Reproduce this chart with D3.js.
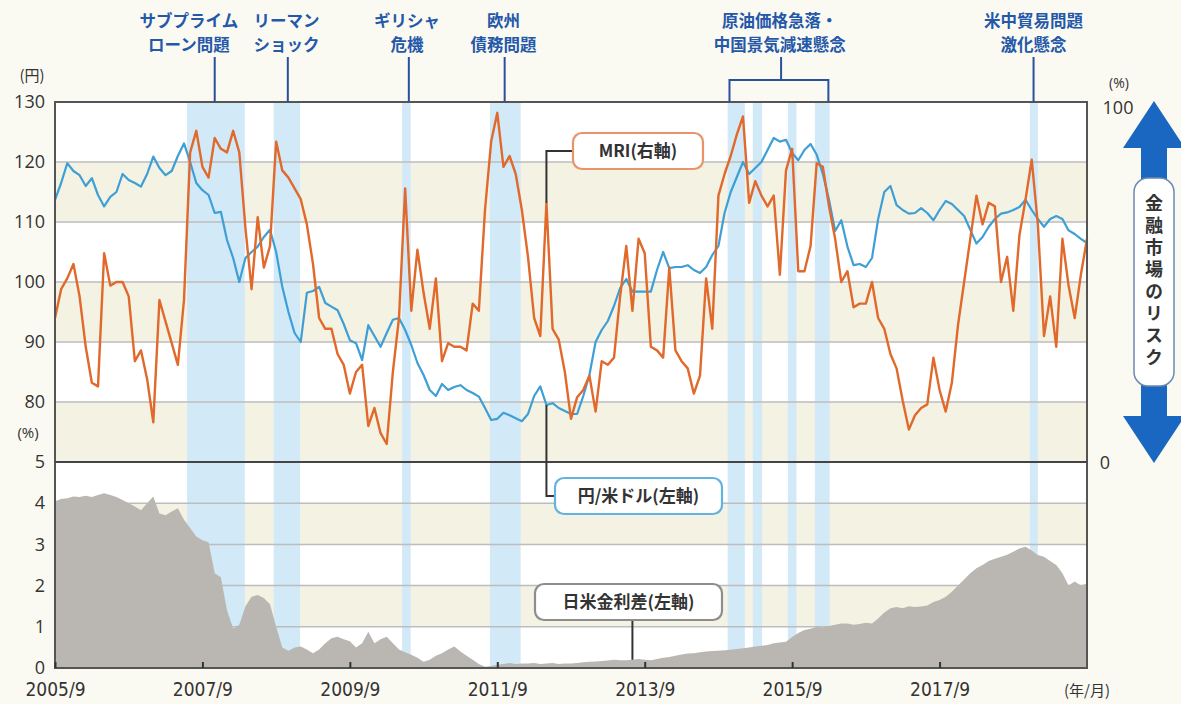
<!DOCTYPE html>
<html>
<head>
<meta charset="utf-8">
<script src="https://cdn.jsdelivr.net/npm/d3@7"></script>
<style>
  body { margin: 0; background: #fbfaf2; }
  svg { display: block; }
</style>
</head>
<body>
<div id="chart"></div>
<script>
// Monthly data, first month = 2005/9 (index 0), last = 2019/9 (index 168)
const usdJpy = [
  113.7, 116.5, 119.8, 118.5, 117.8, 116, 117.3, 114.5, 112.6, 114.2,
  115, 118, 117, 116.5, 115.9, 118, 120.9, 119, 117.8, 118.5,
  121, 123.1, 120, 116.5, 115.3, 114.5, 111.5, 111.7, 107, 104,
  100, 104, 105, 105.9, 107.5, 108.7, 105, 99.2, 95, 91.5,
  90, 98.2, 98.5, 99.2, 96.5, 95.9, 95.3, 93, 90.3, 89.8,
  87, 92.8, 91, 89.2, 91.5, 93.7, 94, 92, 89.5, 86.5,
  84.5, 82, 81, 83, 82, 82.5, 82.8, 82, 81.5, 80.9,
  79, 77, 77.2, 78.2, 77.8, 77.3, 76.8, 78, 81, 82.6,
  79.5, 79.8, 79, 78.5, 78, 78, 81, 84.5, 90, 92,
  93.5, 96, 99, 100.5, 98.4, 98.4, 98.4, 98.4, 102, 105,
  102.3, 102.5, 102.5, 102.8, 102, 101.5, 102.5, 104.5, 106, 111.5,
  115, 117.5, 120, 118, 119, 120, 122, 124, 123.4, 123.7,
  121.5, 120.3, 122, 123, 121.2, 118, 113.7, 108.5, 110.3, 105.9,
  102.8, 103, 102.5, 104, 110.5, 115, 116, 112.8, 112, 111.4,
  111.5, 112.3, 111.5, 110.3, 112, 113.5, 113, 112, 111, 108.7,
  106.4, 107.5, 109.2, 110.5, 111.4, 111.6, 112, 112.5, 113.7, 112,
  110.5, 109.2, 110.5, 111, 110.5, 108.6, 108, 107.2, 106.5
];

const mri = [
  40, 48, 51, 55, 46, 32, 22, 21, 58, 49,
  50, 50, 46, 28, 31, 23, 11, 45, 39, 33,
  27, 45, 86, 92, 82, 79, 90, 87, 86, 92,
  86, 65, 48, 68, 54, 60, 89, 81, 79, 76,
  73, 66, 55, 40, 37, 37, 30, 27, 19, 25,
  27, 10, 15, 8, 5, 25, 40, 76, 42, 59,
  47, 37, 51, 28, 33, 32, 32, 31, 44, 42,
  70, 89, 97, 82, 85, 80, 70, 57, 40, 35,
  72, 37, 34, 25, 12, 18, 20, 24, 14, 28,
  27, 29, 46, 60, 42, 62, 58, 32, 31, 29,
  54, 31, 28, 26, 19, 24, 51, 37, 74, 80,
  85, 91, 96, 72, 78, 74, 71, 74, 52, 81,
  87, 53, 53, 60, 83, 82, 71, 62, 50, 53,
  43, 44, 44, 50, 40, 37, 30, 26, 17, 9,
  13, 15, 16, 29, 20, 14, 22, 38, 50, 62,
  74, 66, 72, 71, 50, 57, 42, 63, 73, 84,
  66, 35, 46, 32, 62, 49, 40, 52, 62
];

const rateDiff = [
  4.05, 4.1, 4.12, 4.16, 4.15, 4.18, 4.15, 4.2, 4.24, 4.2,
  4.15, 4.08, 4.0, 3.92, 3.83, 4.0, 4.16, 3.75, 3.71, 3.8,
  3.88, 3.6, 3.4, 3.19, 3.1, 3.05, 2.3, 2.2, 1.4, 0.96,
  1.05, 1.5, 1.73, 1.77, 1.7, 1.55, 1.0, 0.5, 0.42, 0.5,
  0.52, 0.45, 0.36, 0.45, 0.6, 0.72, 0.76, 0.7, 0.65, 0.5,
  0.6, 0.88, 0.6, 0.7, 0.76, 0.6, 0.45, 0.38, 0.32, 0.25,
  0.15, 0.2, 0.3, 0.36, 0.45, 0.52, 0.4, 0.3, 0.2, 0.1,
  0.03, 0.05, 0.08, 0.1, 0.12, 0.1, 0.11, 0.11, 0.12, 0.1,
  0.11, 0.12, 0.1, 0.11, 0.11, 0.12, 0.14, 0.15, 0.16, 0.17,
  0.18, 0.2, 0.19, 0.19, 0.2, 0.22, 0.2, 0.19, 0.22, 0.25,
  0.27, 0.3, 0.33, 0.35, 0.36, 0.38, 0.4, 0.41, 0.42, 0.43,
  0.44, 0.46, 0.48, 0.5, 0.52, 0.54, 0.56, 0.6, 0.62, 0.64,
  0.75, 0.85, 0.92, 0.95, 1.0, 0.98, 1.02, 1.05, 1.08, 1.08,
  1.05, 1.07, 1.1, 1.08, 1.2, 1.35, 1.45, 1.48, 1.45, 1.5,
  1.48, 1.49, 1.52, 1.6, 1.65, 1.73, 1.85, 2.0, 2.15, 2.3,
  2.42, 2.5, 2.6, 2.65, 2.7, 2.75, 2.82, 2.9, 2.94, 2.85,
  2.74, 2.7, 2.6, 2.5, 2.3, 2.0, 2.1, 2.0, 2.05
];

// x axis ticks (month index) and their labels
const xTickMonths = [0, 24, 48, 72, 96, 120, 144];
const xTickLabels = ["2005/9", "2007/9", "2009/9", "2011/9", "2013/9", "2015/9", "2017/9"];

// left / lower ticks
const yenTicks = [80, 90, 100, 110, 120, 130];
const rateTicks = [0, 1, 2, 3, 4, 5];

// shaded event periods (month index, start / end)
const eventBands = [
  [21.5, 30.9], [35.6, 39.9], [56.5, 57.9], [70.8, 75.8],
  [109.5, 112.3], [113.6, 115.1], [119.3, 120.7], [123.7, 126.1],
  [158.7, 160.0]
];

// event labels at the top: pointer month, label centre month
const eventLabels = [
  { lines: ["サブプライム", "ローン問題"], at: 26, textAt: 21.8 },
  { lines: ["リーマン", "ショック"], at: 37.9, textAt: 37.7 },
  { lines: ["ギリシャ", "危機"], at: 57.6, textAt: 57.3 },
  { lines: ["欧州", "債務問題"], at: 73.2, textAt: 73.0 },
  { lines: ["原油価格急落・", "中国景気減速懸念"], at: 118.2, textAt: 118.0, span: [109.8, 125.9] },
  { lines: ["米中貿易問題", "激化懸念"], at: 159.3, textAt: 159.3 }
];

let width = 1181, height = 704;
let plot = { left: 55, right: 1087, top: 102, mid: 462, bottom: 668 };

let svg = d3.select('#chart')
            .append('svg')
            .attr('width', width)
            .attr('height', height)
            .style('background', '#fbfaf2');

const x = d3.scaleLinear()
            .domain([0, 168])
            .range([plot.left, plot.right]);

// yen on the left of the upper panel, MRI on the right
const yYen = d3.scaleLinear().domain([70, 130]).range([plot.mid, plot.top]);
const yMri = d3.scaleLinear().domain([0, 100]).range([plot.mid, plot.top]);
// rate spread in the lower panel
const yRate = d3.scaleLinear().domain([0, 5]).range([plot.bottom, plot.mid]);

const plotW = plot.right - plot.left;

// white + beige bands
svg.append('rect')
   .attr('x', plot.left).attr('y', plot.top)
   .attr('width', plotW).attr('height', plot.bottom - plot.top)
   .attr('fill', '#ffffff');

[[120, 110], [100, 90], [80, 70]].forEach(b => {
  svg.append('rect')
     .attr('x', plot.left).attr('y', yYen(b[0]))
     .attr('width', plotW).attr('height', yYen(b[1]) - yYen(b[0]))
     .attr('fill', '#f4f2e3');
});
[[4, 3], [2, 1]].forEach(b => {
  svg.append('rect')
     .attr('x', plot.left).attr('y', yRate(b[0]))
     .attr('width', plotW).attr('height', yRate(b[1]) - yRate(b[0]))
     .attr('fill', '#f4f2e3');
});

// event shading
svg.selectAll('rect.event')
   .data(eventBands)
   .enter()
   .append('rect')
   .attr('class', 'event')
   .attr('x', d => x(d[0]))
   .attr('y', plot.top)
   .attr('width', d => x(d[1]) - x(d[0]))
   .attr('height', plot.bottom - plot.top)
   .attr('fill', '#d2e9f8');

// gridlines
svg.append('g')
   .selectAll('line')
   .data([80, 90, 100, 110, 120])
   .enter()
   .append('line')
   .attr('x1', plot.left).attr('x2', plot.right)
   .attr('y1', d => yYen(d)).attr('y2', d => yYen(d))
   .attr('stroke', '#bdbdbd').attr('stroke-width', 1.5);

svg.append('g')
   .selectAll('line')
   .data([1, 2, 3, 4])
   .enter()
   .append('line')
   .attr('x1', plot.left).attr('x2', plot.right)
   .attr('y1', d => yRate(d)).attr('y2', d => yRate(d))
   .attr('stroke', '#bdbdbd').attr('stroke-width', 1.5);

// rate spread area
const area = d3.area()
               .x((d, i) => x(i))
               .y0(yRate(0))
               .y1(d => yRate(d));

svg.append('path')
   .datum(rateDiff)
   .attr('d', area)
   .attr('fill', '#bab7b2');

// yen line
const yenLine = d3.line()
                  .x((d, i) => x(i))
                  .y(d => yYen(d));

svg.append('path')
   .datum(usdJpy)
   .attr('d', yenLine)
   .attr('fill', 'none')
   .attr('stroke', '#3d9fd6')
   .attr('stroke-width', 2.2)
   .attr('stroke-linejoin', 'round');

// MRI line
const mriLine = d3.line()
                  .x((d, i) => x(i))
                  .y(d => yMri(d));

svg.append('path')
   .datum(mri)
   .attr('d', mriLine)
   .attr('fill', 'none')
   .attr('stroke', '#e0692b')
   .attr('stroke-width', 2.4)
   .attr('stroke-linejoin', 'round');

// frame and panel divider
svg.append('rect')
   .attr('x', plot.left).attr('y', plot.top)
   .attr('width', plotW).attr('height', plot.bottom - plot.top)
   .attr('fill', 'none')
   .attr('stroke', '#555')
   .attr('stroke-width', 2);

svg.append('line')
   .attr('x1', plot.left).attr('x2', plot.right)
   .attr('y1', plot.mid).attr('y2', plot.mid)
   .attr('stroke', '#444').attr('stroke-width', 2);

// axes
const numFont = "'Open Sans', 'Noto Sans', sans-serif";

let yenAxis = svg.append('g')
                 .attr('transform', `translate(${plot.left},0)`)
                 .call(d3.axisLeft(yYen).tickValues(yenTicks).tickSize(0).tickPadding(10));

let rateAxis = svg.append('g')
                  .attr('transform', `translate(${plot.left},0)`)
                  .call(d3.axisLeft(yRate).tickValues(rateTicks).tickFormat(d => d).tickSize(0).tickPadding(10));

let xAxis = svg.append('g')
               .attr('transform', `translate(0,${plot.bottom})`)
               .call(d3.axisBottom(x)
                       .tickValues(xTickMonths)
                       .tickFormat((d, i) => xTickLabels[i])
                       .tickSizeInner(-6)
                       .tickSizeOuter(0)
                       .tickPadding(15));

[yenAxis, rateAxis, xAxis].forEach(a => {
  a.select('.domain').remove();
  a.selectAll('text')
   .attr('fill', '#333')
   .style('font-family', numFont)
   .style('font-size', '18px');
});
xAxis.selectAll('line').attr('stroke', '#333').attr('stroke-width', 2);
xAxis.selectAll('text')
     .style('font-family', "'Liberation Sans Narrow', 'DejaVu Sans Condensed', sans-serif")
     .style('font-size', '19px');

// unit labels
const jpFont = "'Noto Sans CJK JP', sans-serif";

svg.append('text').attr('x', 32).attr('y', 81)
   .attr('text-anchor', 'middle').attr('fill', '#333')
   .style('font-family', jpFont).style('font-size', '15px')
   .text('(円)');
svg.append('text').attr('x', 28).attr('y', 438)
   .attr('text-anchor', 'middle').attr('fill', '#333')
   .style('font-family', numFont).style('font-size', '15px')
   .text('(%)');
svg.append('text').attr('x', 1119).attr('y', 88)
   .attr('text-anchor', 'middle').attr('fill', '#333')
   .style('font-family', numFont).style('font-size', '14px')
   .text('(%)');
svg.append('text').attr('x', 1118).attr('y', 114)
   .attr('text-anchor', 'middle').attr('fill', '#333')
   .style('font-family', numFont).style('font-size', '18px')
   .text(100);
svg.append('text').attr('x', 1105).attr('y', 469)
   .attr('text-anchor', 'middle').attr('fill', '#333')
   .style('font-family', numFont).style('font-size', '18px')
   .text(0);
svg.append('text').attr('x', 1087).attr('y', 696)
   .attr('text-anchor', 'middle').attr('fill', '#333')
   .style('font-family', jpFont).style('font-size', '15px')
   .text('(年/月)');

// event labels and pointer lines
const evColor = '#2a4f9c';
eventLabels.forEach(ev => {
  ev.lines.forEach((ln, j) => {
    svg.append('text')
       .attr('x', x(ev.textAt))
       .attr('y', 27 + j * 24)
       .attr('text-anchor', 'middle')
       .attr('fill', '#2458a8')
       .style('font-family', jpFont)
       .style('font-weight', 'bold')
       .style('font-size', '16.5px')
       .text(ln);
  });
  if (ev.span) {
    svg.append('line')
       .attr('x1', x(ev.at)).attr('x2', x(ev.at))
       .attr('y1', 57).attr('y2', 80)
       .attr('stroke', evColor).attr('stroke-width', 2);
    svg.append('path')
       .attr('d', `M${x(ev.span[0])},${plot.top}V80H${x(ev.span[1])}V${plot.top}`)
       .attr('fill', 'none')
       .attr('stroke', evColor).attr('stroke-width', 2);
  } else {
    svg.append('line')
       .attr('x1', x(ev.at)).attr('x2', x(ev.at))
       .attr('y1', 57).attr('y2', plot.top)
       .attr('stroke', evColor).attr('stroke-width', 2);
  }
});

// callout boxes
function callout(bx, by, bw, bh, stroke, label) {
  svg.append('rect')
     .attr('x', bx).attr('y', by)
     .attr('width', bw).attr('height', bh)
     .attr('rx', 9)
     .attr('fill', '#ffffff')
     .attr('stroke', stroke)
     .attr('stroke-width', 2.2);
  svg.append('text')
     .attr('x', bx + bw / 2)
     .attr('y', by + bh / 2)
     .attr('dy', '0.36em')
     .attr('text-anchor', 'middle')
     .attr('fill', '#333')
     .style('font-family', jpFont)
     .style('font-weight', 'bold')
     .style('font-size', '17px')
     .text(label);
}

const leadColor = '#333';
const leadMonth = 80;

// MRI label, leader down to the MRI spike
svg.append('path')
   .attr('d', `M573,151H${x(leadMonth)}V${yMri(mri[leadMonth])}`)
   .attr('fill', 'none').attr('stroke', leadColor).attr('stroke-width', 2);
callout(573, 133, 130, 36, '#e99468', 'MRI(右軸)');

// yen label, leader up to the yen line
svg.append('path')
   .attr('d', `M555,496H${x(leadMonth)}V${yYen(usdJpy[leadMonth])}`)
   .attr('fill', 'none').attr('stroke', leadColor).attr('stroke-width', 2);
callout(555, 478, 167, 36, '#63b3e2', '円/米ドル(左軸)');

// rate spread label
svg.append('line')
   .attr('x1', x(94)).attr('x2', x(94))
   .attr('y1', 620).attr('y2', yRate(rateDiff[94]))
   .attr('stroke', leadColor).attr('stroke-width', 2);
callout(535, 584, 187, 36, '#8d8d8d', '日米金利差(左軸)');

// risk arrow on the right
const ax = 1154;
svg.append('path')
   .attr('d', `M${ax},101 L${ax + 31},148 L${ax + 13},148 L${ax + 13},416 L${ax + 31},416
               L${ax},463 L${ax - 31},416 L${ax - 13},416 L${ax - 13},148 L${ax - 31},148 Z`)
   .attr('fill', '#1a67c1');

svg.append('rect')
   .attr('x', ax - 20).attr('y', 178)
   .attr('width', 40).attr('height', 208)
   .attr('rx', 14)
   .attr('fill', '#ffffff')
   .attr('stroke', '#6c89b0')
   .attr('stroke-width', 1.5);

svg.append('text')
   .attr('x', ax)
   .attr('y', 282)
   .attr('text-anchor', 'middle')
   .attr('fill', '#333')
   .style('font-family', jpFont)
   .style('font-weight', 'bold')
   .style('font-size', '18px')
   .style('writing-mode', 'vertical-rl')
   .style('text-orientation', 'upright')
   .style('letter-spacing', '4px')
   .text('金融市場のリスク');
</script>
</body>
</html>
